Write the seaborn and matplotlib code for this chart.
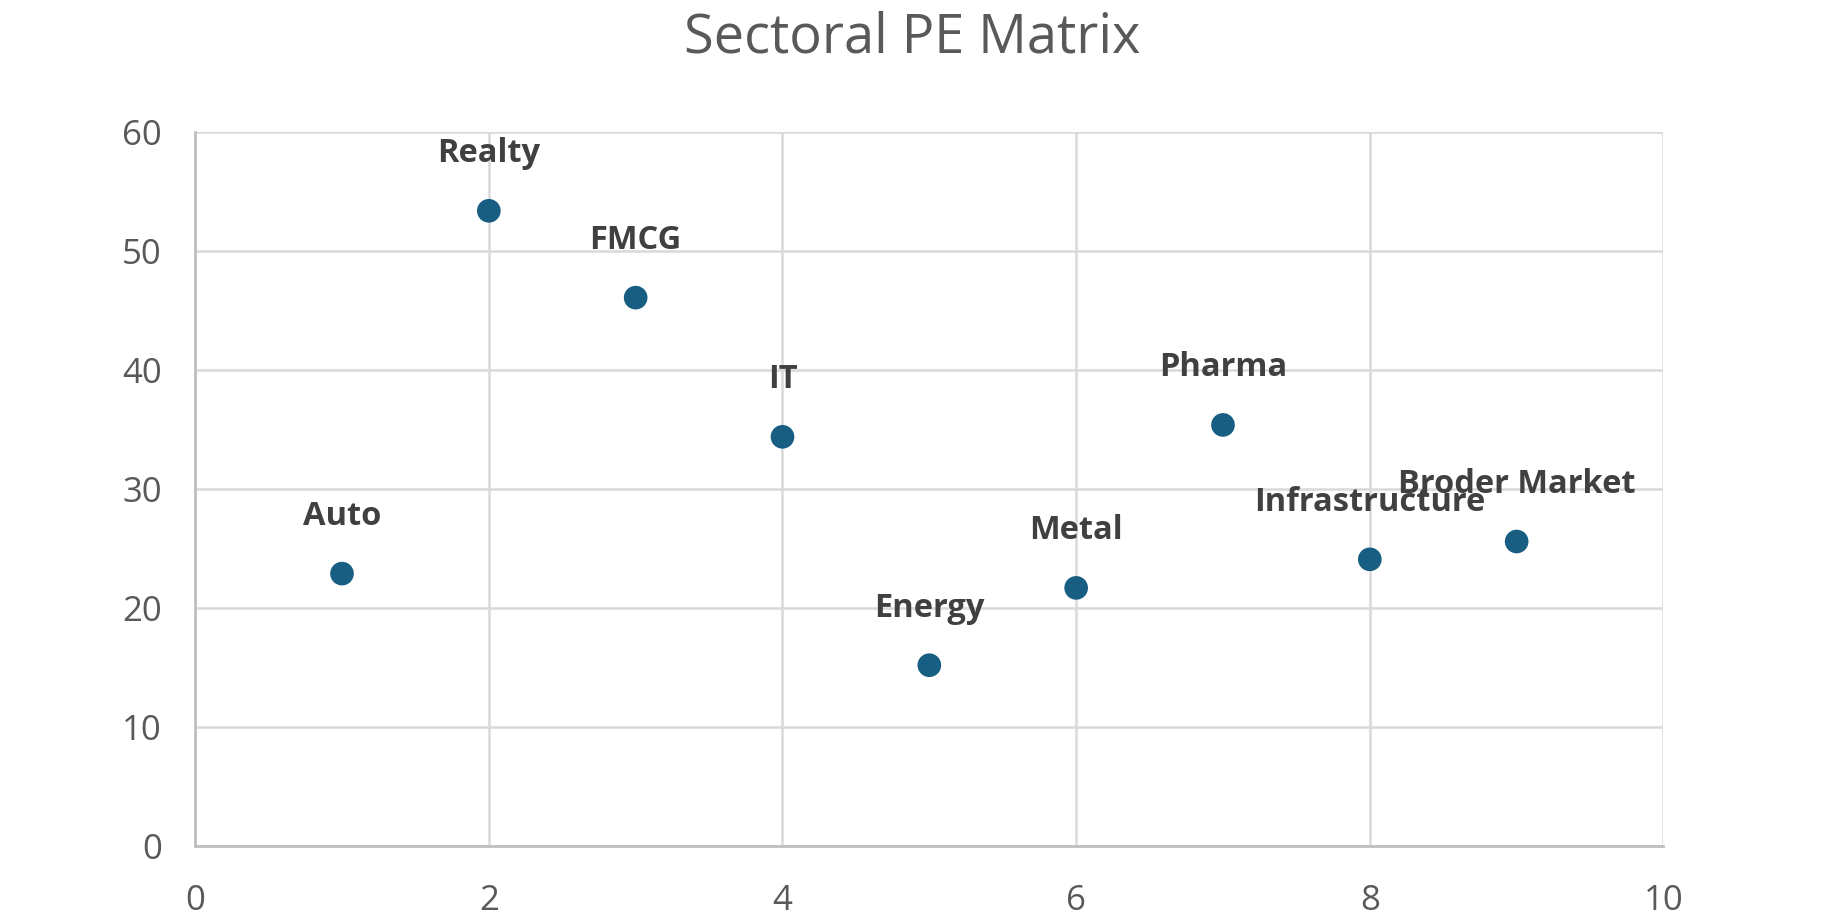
import numpy as np
import pandas as pd
import matplotlib
matplotlib.use("Agg")
import matplotlib.pyplot as plt
import seaborn as sns

sectors = ["Auto", "Realty", "FMCG", "IT", "Energy", "Metal", "Pharma",
           "Infrastructure", "Broder Market"]
x_pos = [1, 2, 3, 4, 5, 6, 7, 8, 9]
pe = [22.9, 53.4, 46.1, 34.4, 15.2, 21.7, 35.4, 24.1, 25.6]

df = pd.DataFrame({"sector": sectors, "x": x_pos, "pe": pe})

sns.set_theme(style="white")
plt.rcParams["font.family"] = ["Open Sans", "DejaVu Sans"]

fig = plt.figure(figsize=(18.24, 9.15), dpi=100)
ax = fig.add_axes([0.107, 0.0754, 0.805, 0.78])

sns.scatterplot(data=df, x="x", y="pe", ax=ax, color="#175E82", s=290,
                edgecolor="none", zorder=3)

# data labels above each point
for _, r in df.iterrows():
    ax.annotate(r["sector"], (r["x"], r["pe"]), xytext=(0, 41),
                textcoords="offset points", ha="center", va="center",
                fontsize=23.5, fontweight="bold", color="#404040", zorder=4)

ax.set_xlim(0, 10)
ax.set_ylim(0, 60)
ax.set_xticks(np.arange(0, 11, 2))
ax.set_yticks(np.arange(0, 61, 10))
ax.grid(True, color="#D9D9D9", linewidth=1.8)
ax.set_axisbelow(True)
for s in ["top", "right"]:
    ax.spines[s].set_visible(False)
for s in ["left", "bottom"]:
    ax.spines[s].set_color("#BFBFBF")
    ax.spines[s].set_linewidth(2)
ax.tick_params(axis="both", length=0, labelsize=25, labelcolor="#595959")
ax.tick_params(axis="y", pad=24)
ax.tick_params(axis="x", pad=27)
ax.set_xlabel("")
ax.set_ylabel("")

fig.suptitle("Sectoral PE Matrix", y=0.958, va="center", fontsize=39,
             color="#595959")

fig.savefig("out.png", dpi=100)
